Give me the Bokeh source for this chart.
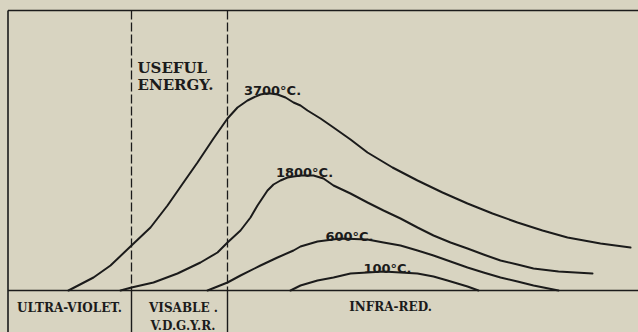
from bokeh.plotting import figure
from bokeh.models import Range1d
from bokeh.core.properties import value
from bokeh.embed import file_html
from bokeh.resources import INLINE

# ---- data (horizontal position along spectrum, relative radiant energy) ----
x_3700 = [60, 85, 102, 123, 142, 159, 175, 189, 205, 219, 229, 239, 245, 252, 257, 262, 269, 277, 285,
          292, 299, 312, 325, 342, 359, 384, 409, 434, 459, 484, 509, 534, 559, 592, 622]
e_3700 = [0, 13, 25, 45, 63, 85, 108, 128, 152, 172, 183, 190, 193, 196, 197, 197, 196, 193, 188,
          185, 180, 172, 163, 151, 138, 123, 110, 98, 87, 77, 68, 60, 53, 47, 43]

x_1800 = [112, 123, 145, 169, 192, 209, 219, 232, 242, 249, 259, 265, 272, 279, 285, 292, 305, 315, 325,
          342, 359, 375, 392, 409, 425, 442, 459, 475, 492, 509, 525, 550, 584]
e_1800 = [0, 3, 8, 17, 28, 38, 48, 60, 73, 85, 100, 106, 110, 113, 114, 115, 115, 112, 105,
          97, 88, 80, 72, 63, 55, 48, 42, 36, 30, 26, 22, 19, 17]

x_600 = [199, 219, 232, 252, 269, 285, 292, 309, 332, 359, 375, 392, 409, 425, 442, 459, 475, 492, 509, 525, 545, 550]
e_600 = [0, 8, 15, 25, 33, 40, 44, 49, 52, 51, 48, 45, 40, 35, 29, 23, 18, 13, 9, 5, 1, 0]

x_100 = [282, 292, 309, 325, 342, 359, 375, 392, 409, 425, 439, 449, 459, 470]
e_100 = [0, 5, 10, 13, 17, 18, 19, 18, 17, 14, 10, 7, 4, 0]

temp_labels = ["3700°C.", "1800°C.", "600°C.", "100°C."]
temp_label_x = [264, 296, 341, 379]
temp_label_y = [200, 118, 54, 22]

dividers = [123, 219]          # ultra-violet | visible | infra-red
frame_left, frame_right, frame_top = -0.5, 630, 280
band_names = ["ULTRA-VIOLET.", "VISABLE .", "INFRA-RED."]
band_x = [61, 175, 382]
visible_sub = "V.D.G.Y.R."

INK = "#1b1b1b"
PAPER = "#d8d4c1"

p = figure(width=638, height=332, output_backend="svg", toolbar_location=None,
           x_range=Range1d(-8, 630), y_range=Range1d(-42, 290),
           min_border=0, outline_line_color=None,
           background_fill_color=PAPER, border_fill_color=PAPER)
p.axis.visible = False
p.grid.visible = False

# frame
p.segment(x0=[frame_left], y0=[frame_top], x1=[frame_left], y1=[-42], line_color=INK, line_width=1.6)
p.segment(x0=[frame_left], y0=[frame_top], x1=[frame_right], y1=[frame_top], line_color=INK, line_width=1.5)
p.segment(x0=[frame_left], y0=[0], x1=[frame_right], y1=[0], line_color=INK, line_width=1.6)

# dashed dividers above baseline, solid below
p.segment(x0=dividers, y0=[frame_top] * 2, x1=dividers, y1=[0] * 2,
          line_color=INK, line_width=1.3, line_dash="9 3")
p.segment(x0=dividers, y0=[0] * 2, x1=dividers, y1=[-42] * 2, line_color=INK, line_width=1.4)

# curves
for xs, es in [(x_3700, e_3700), (x_1800, e_1800), (x_600, e_600), (x_100, e_100)]:
    p.line(xs, es, line_color=INK, line_width=2, line_join="round", line_cap="round")

# labels
p.text(x=temp_label_x, y=temp_label_y, text=temp_labels, text_align="center",
       text_baseline="alphabetic", text_font=value("DejaVu Sans"),
       text_font_size="13px", text_font_style="bold", text_color=INK)

p.text(x=[129, 129], y=[223, 206], text=["USEFUL", "ENERGY."], text_align="left",
       text_baseline="alphabetic", text_font=value("DejaVu Serif"),
       text_font_size="15px", text_font_style="bold", text_color=INK)

p.text(x=band_x, y=[-17, -17, -16], text=band_names, text_align="center",
       text_baseline="alphabetic", text_font=value("DejaVu Serif"),
       text_font_size="12px", text_font_style="bold", text_color=INK)
p.text(x=[174.5], y=[-35], text=[visible_sub], text_align="center",
       text_baseline="alphabetic", text_font=value("DejaVu Serif"),
       text_font_size="12px", text_font_style="bold", text_color=INK)

tmpl = "{% block preamble %}<style>html,body{background:" + PAPER + ";}</style>{% endblock %}"
open("out.html", "w").write(file_html(p, INLINE, template=tmpl))
